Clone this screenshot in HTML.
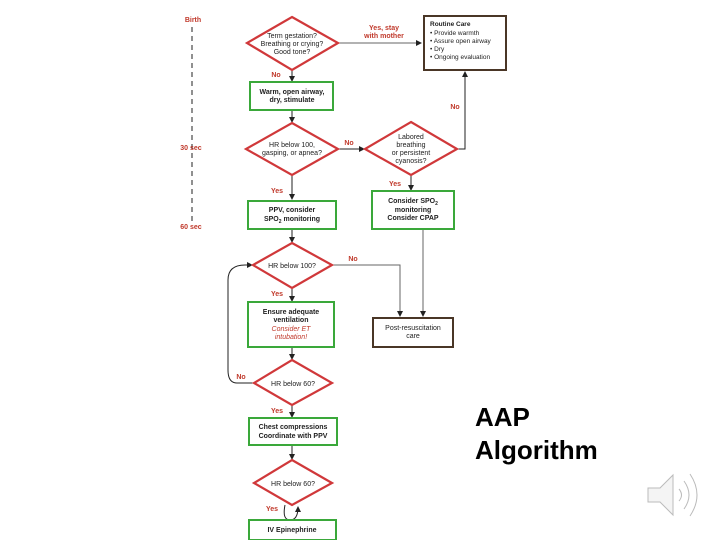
<!DOCTYPE html>
<html><head><style>
html,body{margin:0;padding:0;background:#fff;}
svg{display:block;}
text{font-family:"Liberation Sans",Arial,sans-serif;}
.t{font-size:7px;font-weight:bold;fill:#222;text-anchor:middle;}
.r{font-size:7px;font-weight:bold;fill:#c0392b;text-anchor:middle;}
.d{fill:#fff;stroke:#d0383a;stroke-width:2.2;}
.g{fill:#fff;stroke:#3aa83a;stroke-width:2;}
.b{fill:#fff;stroke:#4a3626;stroke-width:2;}
.l{stroke:#222;stroke-width:1;fill:none;}
.gl{stroke:#666;stroke-width:1;fill:none;}
</style></head><body>
<svg width="720" height="540" viewBox="0 0 720 540" xmlns="http://www.w3.org/2000/svg">
<defs><marker id="a" markerWidth="6" markerHeight="6" refX="5" refY="3" orient="auto"><path d="M0,0 L6,3 L0,6 Z" fill="#222"/></marker></defs>
<text x="193" y="22" class="r">Birth</text>
<line x1="192" y1="27" x2="192" y2="222" stroke="#222" stroke-width="1" stroke-dasharray="5,4"/>
<text x="191" y="150" class="r">30 sec</text>
<text x="191" y="229" class="r">60 sec</text>

<line class="gl" x1="338" y1="43" x2="421" y2="43" marker-end="url(#a)"/>
<text x="384" y="30" class="r">Yes, stay</text>
<text x="384" y="38" class="r">with mother</text>
<line class="l" x1="292" y1="70" x2="292" y2="81" marker-end="url(#a)"/>
<text x="276" y="77" class="r">No</text>
<line class="l" x1="292" y1="110" x2="292" y2="122" marker-end="url(#a)"/>
<line class="l" x1="338" y1="149" x2="364" y2="149" marker-end="url(#a)"/>
<text x="349" y="145" class="r">No</text>
<polyline class="l" points="457,149 465,149 465,72" marker-end="url(#a)"/>
<text x="455" y="109" class="r">No</text>
<line class="l" x1="411" y1="175" x2="411" y2="190" marker-end="url(#a)"/>
<text x="395" y="186" class="r">Yes</text>
<line class="l" x1="292" y1="175" x2="292" y2="199" marker-end="url(#a)"/>
<text x="277" y="193" class="r">Yes</text>
<line class="l" x1="292" y1="229" x2="292" y2="242" marker-end="url(#a)"/>
<polyline class="gl" points="332,265 400,265 400,316" marker-end="url(#a)"/>
<text x="353" y="261" class="r">No</text>
<line class="gl" x1="423" y1="229" x2="423" y2="316" marker-end="url(#a)"/>
<line class="l" x1="292" y1="288" x2="292" y2="301" marker-end="url(#a)"/>
<text x="277" y="296" class="r">Yes</text>
<line class="l" x1="292" y1="347" x2="292" y2="359" marker-end="url(#a)"/>
<path class="l" d="M254,383 L237,383 Q228,383 228,370 L228,280 Q228,265 245,265 L252,265" marker-end="url(#a)"/>
<text x="241" y="379" class="r">No</text>
<line class="l" x1="292" y1="405" x2="292" y2="417" marker-end="url(#a)"/>
<text x="277" y="413" class="r">Yes</text>
<line class="l" x1="292" y1="445" x2="292" y2="459" marker-end="url(#a)"/>
<path class="l" d="M285,505 Q282,520 290,520 Q298,520 298,507" marker-end="url(#a)"/>
<text x="272" y="511" class="r">Yes</text>

<polygon class="d" points="292,17 338,43 292,70 247,43"/>
<text x="292" y="38" class="t" style="font-weight:normal">Term gestation?</text>
<text x="292" y="46" class="t" style="font-weight:normal">Breathing or crying?</text>
<text x="292" y="54" class="t" style="font-weight:normal">Good tone?</text>

<rect class="b" x="424" y="16" width="82" height="54"/>
<text x="430" y="26" style="font-size:6.5px;font-weight:bold;fill:#222">Routine Care</text>
<text x="430" y="35" style="font-size:6.5px;fill:#222">• Provide warmth</text>
<text x="430" y="43" style="font-size:6.5px;fill:#222">• Assure open airway</text>
<text x="430" y="51" style="font-size:6.5px;fill:#222">• Dry</text>
<text x="430" y="59" style="font-size:6.5px;fill:#222">• Ongoing evaluation</text>

<rect class="g" x="250" y="82" width="83" height="28"/>
<text x="292" y="94" class="t">Warm, open airway,</text>
<text x="292" y="102" class="t">dry, stimulate</text>

<polygon class="d" points="292,123 338,149 292,175 246,149"/>
<text x="292" y="147" class="t" style="font-weight:normal">HR below 100,</text>
<text x="292" y="155" class="t" style="font-weight:normal">gasping, or apnea?</text>

<polygon class="d" points="411,122 457,149 411,175 365,149"/>
<text x="411" y="139" class="t" style="font-weight:normal">Labored</text>
<text x="411" y="147" class="t" style="font-weight:normal">breathing</text>
<text x="411" y="155" class="t" style="font-weight:normal">or persistent</text>
<text x="411" y="163" class="t" style="font-weight:normal">cyanosis?</text>

<rect class="g" x="248" y="201" width="88" height="28"/>
<text x="292" y="212" class="t">PPV, consider</text>
<text x="292" y="221" class="t">SPO<tspan style="font-size:5px" dy="2">2</tspan><tspan dy="-2"> monitoring</tspan></text>

<rect class="g" x="372" y="191" width="82" height="38"/>
<text x="413" y="203" class="t">Consider SPO<tspan style="font-size:5px" dy="2">2</tspan></text>
<text x="413" y="212" class="t">monitoring</text>
<text x="413" y="220" class="t">Consider CPAP</text>

<polygon class="d" points="292,243 332,265 292,288 253,265"/>
<text x="292" y="268" class="t" style="font-weight:normal">HR below 100?</text>

<rect class="g" x="248" y="302" width="86" height="45"/>
<text x="291" y="314" class="t">Ensure adequate</text>
<text x="291" y="322" class="t">ventilation</text>
<text x="291" y="331" class="r" style="font-style:italic;font-weight:normal">Consider ET</text>
<text x="291" y="339" class="r" style="font-style:italic;font-weight:normal">intubation!</text>

<rect class="b" x="373" y="318" width="80" height="29"/>
<text x="413" y="330" class="t" style="font-weight:normal">Post-resuscitation</text>
<text x="413" y="338" class="t" style="font-weight:normal">care</text>

<polygon class="d" points="292,360 332,383 292,405 254,383"/>
<text x="293" y="386" class="t" style="font-weight:normal">HR below 60?</text>

<rect class="g" x="249" y="418" width="88" height="27"/>
<text x="293" y="429" class="t">Chest compressions</text>
<text x="293" y="438" class="t">Coordinate with PPV</text>

<polygon class="d" points="292,460 332,483 292,505 254,483"/>
<text x="293" y="486" class="t" style="font-weight:normal">HR below 60?</text>

<rect class="g" x="249" y="520" width="87" height="20"/>
<text x="292" y="532" class="t">IV Epinephrine</text>

<text x="475" y="426" style="font-size:26px;font-weight:bold;fill:#000">AAP</text>
<text x="475" y="459" style="font-size:26px;font-weight:bold;fill:#000">Algorithm</text>

<g stroke="#bbb" fill="#f4f4f4" stroke-width="1">
<polygon points="648,488 660,488 673,475 673,515 660,502 648,502"/>
<path d="M679,489 Q684,495 679,501" fill="none"/>
<path d="M684,481 Q694,495 684,509" fill="none"/>
<path d="M690,474 Q704,495 690,516" fill="none"/>
</g>
</svg>
</body></html>
